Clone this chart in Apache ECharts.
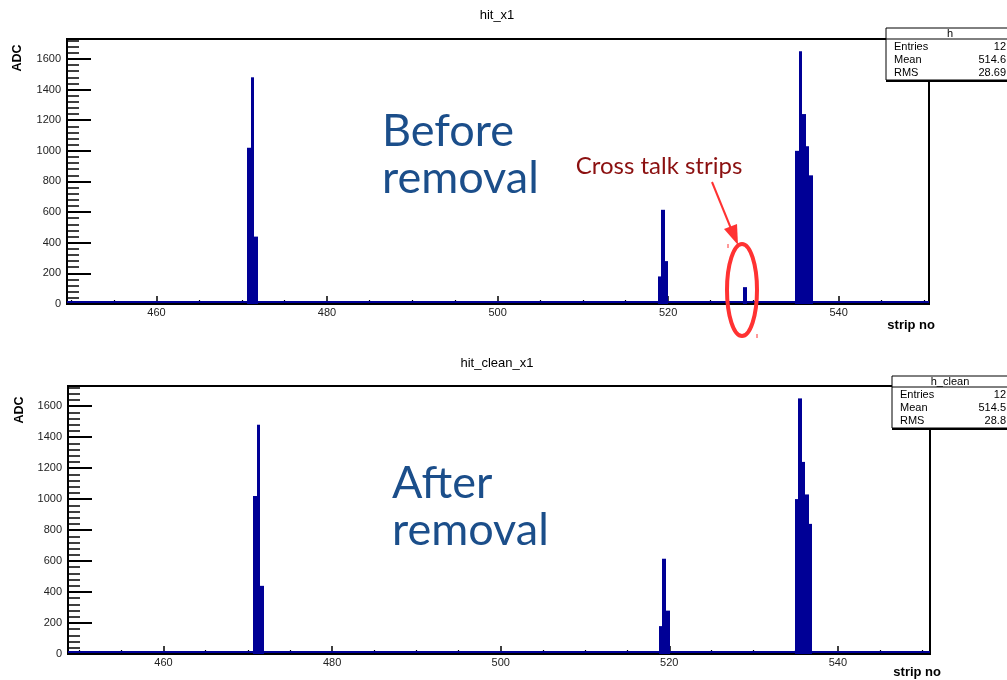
<!DOCTYPE html>
<html>
<head>
<meta charset="utf-8">
<script src="https://cdn.jsdelivr.net/npm/echarts@6/dist/echarts.min.js"></script>
<style>
  html, body { margin: 0; padding: 0; background: #fff; }
  #chart { width: 1007px; height: 680px; }
</style>
</head>
<body>
<div id="chart"></div>
<script>
// Strip histograms: ADC per strip bin, before and after cross-talk removal
const binWidth = 0.42;
const stripCenters = [470.84, 471.26, 471.68, 518.98, 519.40, 519.82, 528.99, 535.09, 535.51, 535.93, 536.35, 536.77];
const adcBefore   = [1020, 1480, 440, 180, 615, 280, 110, 1000, 1650, 1240, 1030, 840];
const adcAfter    = [1020, 1480, 440, 180, 615, 280, 0,   1000, 1650, 1240, 1030, 840];

const xRangeTop = [449.5, 550.6];
const xRangeBottom = [448.67, 550.93];
const yMax = 1730;

const xMajorTicks = [460, 480, 500, 520, 540];
const xMinorTicks = [450, 455, 465, 470, 475, 485, 490, 495, 505, 510, 515, 525, 530, 535, 545, 550];
const yMajorTicks = [0, 200, 400, 600, 800, 1000, 1200, 1400, 1600];
const yMinorTicks = [40, 80, 120, 160, 240, 280, 320, 360, 440, 480, 520, 560, 640, 680, 720, 760,
                     840, 880, 920, 960, 1040, 1080, 1120, 1160, 1240, 1280, 1320, 1360,
                     1440, 1480, 1520, 1560, 1640, 1680, 1720];

const statsTop = { name: 'h', rows: [['Entries', '12'], ['Mean', '514.6'], ['RMS', '28.69']] };
const statsBottom = { name: 'h_clean', rows: [['Entries', '12'], ['Mean', '514.5'], ['RMS', '28.8']] };

const HIST_BLUE = '#000096';
const ROOT_FONT = 'Liberation Sans, Arial, sans-serif';

function toBins(values) {
  const out = [];
  for (let i = 0; i < stripCenters.length; i++) {
    if (values[i] > 0) out.push([stripCenters[i], values[i]]);
  }
  return out;
}

// one filled bin; edges snapped to whole pixels so neighbouring bins join cleanly
function renderBin(params, api) {
  const c = api.value(0), v = api.value(1);
  const p0 = api.coord([c - binWidth / 2, v]);
  const p1 = api.coord([c + binWidth / 2, 0]);
  const x0 = Math.round(p0[0]), x1 = Math.round(p1[0]);
  return {
    type: 'rect',
    shape: { x: x0, y: p0[1], width: x1 - x0, height: p1[1] - p0[1] },
    style: { fill: HIST_BLUE }
  };
}

// empty-bin level of the histogram, drawn as a thin line along zero
function renderZeroLevel(params, api) {
  const a = api.coord([api.value(0), 0]);
  const b = api.coord([api.value(1), 0]);
  return {
    type: 'rect',
    shape: { x: a[0], y: a[1] - 3, width: b[0] - a[0], height: 2 },
    style: { fill: HIST_BLUE }
  };
}

function xAxes(gridIndex, range) {
  return [
    {
      type: 'value', gridIndex, min: range[0], max: range[1], position: 'bottom',
      axisLine: { show: false }, splitLine: { show: false },
      axisTick: { show: true, inside: true, length: 8, customValues: xMajorTicks,
                  lineStyle: { color: '#000', width: 1.5 } },
      axisLabel: { customValues: xMajorTicks, fontFamily: ROOT_FONT, fontSize: 11,
                   color: '#222', margin: 3, formatter: v => String(v) }
    },
    {
      type: 'value', gridIndex, min: range[0], max: range[1], position: 'bottom',
      axisLine: { show: false }, splitLine: { show: false },
      axisTick: { show: true, inside: true, length: 4, customValues: xMinorTicks,
                  lineStyle: { color: '#000', width: 1.2 } },
      axisLabel: { show: false }
    }
  ];
}

function yAxes(gridIndex) {
  return [
    {
      type: 'value', gridIndex, min: 0, max: yMax, position: 'left',
      axisLine: { show: false }, splitLine: { show: false },
      axisTick: { show: true, inside: true, length: 24, customValues: yMajorTicks,
                  lineStyle: { color: '#000', width: 2 } },
      axisLabel: { customValues: yMajorTicks, fontFamily: ROOT_FONT, fontSize: 11,
                   color: '#222', margin: 6, formatter: v => String(v) }
    },
    {
      type: 'value', gridIndex, min: 0, max: yMax, position: 'left',
      axisLine: { show: false }, splitLine: { show: false },
      axisTick: { show: true, inside: true, length: 12, customValues: yMinorTicks,
                  lineStyle: { color: '#000', width: 1.5 } },
      axisLabel: { show: false }
    }
  ];
}

function statsBox(stats, x, y, w) {
  const rowH = 13;
  const headH = 11;
  const h = headH + rowH * stats.rows.length + 2;
  const children = [
    { type: 'rect', shape: { x: 0, y: 0, width: w, height: h },
      style: { fill: '#fff', stroke: '#000', lineWidth: 1 } },
    { type: 'line', shape: { x1: 0, y1: h + 1, x2: w, y2: h + 1 },
      style: { stroke: '#000', lineWidth: 2 } },
    { type: 'line', shape: { x1: 0, y1: headH, x2: w, y2: headH },
      style: { stroke: '#000', lineWidth: 1 } },
    { type: 'text', x: 1007 - x - 57, y: headH / 2 + 0.5,
      style: { text: stats.name, fontFamily: ROOT_FONT, fontSize: 11, fill: '#000',
               align: 'center', verticalAlign: 'middle' } }
  ];
  stats.rows.forEach((r, i) => {
    const cy = headH + rowH * i + rowH / 2 + 1;
    children.push({ type: 'text', x: 8, y: cy,
      style: { text: r[0], fontFamily: ROOT_FONT, fontSize: 11, fill: '#000', verticalAlign: 'middle' } });
    children.push({ type: 'text', x: 1006 - x, y: cy,
      style: { text: r[1], fontFamily: ROOT_FONT, fontSize: 11, fill: '#000',
               align: 'right', verticalAlign: 'middle' } });
  });
  return { type: 'group', x, y, z: 100, children };
}

const chart = echarts.init(document.getElementById('chart'), null, { renderer: 'canvas' });

const option = {
  animation: false,
  backgroundColor: '#fff',
  grid: [
    { left: 67, top: 39, width: 862, height: 265, show: true, borderColor: '#000', borderWidth: 2, backgroundColor: 'transparent' },
    { left: 68, top: 386, width: 862, height: 268, show: true, borderColor: '#000', borderWidth: 2, backgroundColor: 'transparent' }
  ],
  xAxis: [...xAxes(0, xRangeTop), ...xAxes(1, xRangeBottom)],
  yAxis: [...yAxes(0), ...yAxes(1)],
  series: [
    { type: 'custom', xAxisIndex: 0, yAxisIndex: 0, renderItem: renderZeroLevel,
      data: [[xRangeTop[0], xRangeTop[1]]], z: 3, silent: true },
    { type: 'custom', xAxisIndex: 0, yAxisIndex: 0, renderItem: renderBin,
      data: toBins(adcBefore), z: 4 },
    { type: 'custom', xAxisIndex: 2, yAxisIndex: 2, renderItem: renderZeroLevel,
      data: [[xRangeBottom[0], xRangeBottom[1]]], z: 3, silent: true },
    { type: 'custom', xAxisIndex: 2, yAxisIndex: 2, renderItem: renderBin,
      data: toBins(adcAfter), z: 4 }
  ],
  graphic: [
    // histogram titles
    { type: 'text', x: 497, y: 15, style: { text: 'hit_x1', fontFamily: ROOT_FONT, fontSize: 13, fill: '#000', align: 'center', verticalAlign: 'middle' } },
    { type: 'text', x: 497, y: 363, style: { text: 'hit_clean_x1', fontFamily: ROOT_FONT, fontSize: 13, fill: '#000', align: 'center', verticalAlign: 'middle' } },
    // axis titles
    { type: 'text', x: 18, y: 58, rotation: Math.PI / 2, style: { text: 'ADC', fontFamily: ROOT_FONT, fontWeight: 'bold', fontSize: 12.5, fill: '#000', align: 'center', verticalAlign: 'middle' } },
    { type: 'text', x: 20, y: 410, rotation: Math.PI / 2, style: { text: 'ADC', fontFamily: ROOT_FONT, fontWeight: 'bold', fontSize: 12.5, fill: '#000', align: 'center', verticalAlign: 'middle' } },
    { type: 'text', x: 935, y: 325, style: { text: 'strip no', fontFamily: ROOT_FONT, fontWeight: 'bold', fontSize: 13, fill: '#000', align: 'right', verticalAlign: 'middle' } },
    { type: 'text', x: 941, y: 672, style: { text: 'strip no', fontFamily: ROOT_FONT, fontWeight: 'bold', fontSize: 13, fill: '#000', align: 'right', verticalAlign: 'middle' } },
    // statistics boxes
    statsBox(statsTop, 886, 28, 130),
    statsBox(statsBottom, 892, 376, 130),
    // annotations
    { type: 'text', x: 382, y: 108, z: 50, style: { text: 'Before\nremoval', fontFamily: 'Lato, sans-serif', fontSize: 45, lineHeight: 47, fill: '#1b4e8a' } },
    { type: 'text', x: 392, y: 460, z: 50, style: { text: 'After\nremoval', fontFamily: 'Lato, sans-serif', fontSize: 45, lineHeight: 47, fill: '#1b4e8a' } },
    { type: 'text', x: 659, y: 166, z: 50, style: { text: 'Cross talk strips', fontFamily: 'Lato, sans-serif', fontSize: 24, fill: '#8b1010', align: 'center', verticalAlign: 'middle' } },
    { type: 'line', z: 50, shape: { x1: 712, y1: 182, x2: 732, y2: 231 }, style: { stroke: '#ff3232', lineWidth: 2 } },
    { type: 'polygon', z: 50, shape: { points: [[738, 245], [724, 229], [737, 224]] }, style: { fill: '#ff3232' } },
    { type: 'ellipse', z: 50, shape: { cx: 742, cy: 290, rx: 15, ry: 46 }, style: { fill: 'none', stroke: '#ff3232', lineWidth: 4 } },
    { type: 'line', z: 50, shape: { x1: 728, y1: 244, x2: 728, y2: 248 }, style: { stroke: '#ff3232', lineWidth: 1 } },
    { type: 'line', z: 50, shape: { x1: 757, y1: 334, x2: 757, y2: 338 }, style: { stroke: '#ff3232', lineWidth: 1 } }
  ]
};

chart.setOption(option);
</script>
</body>
</html>
